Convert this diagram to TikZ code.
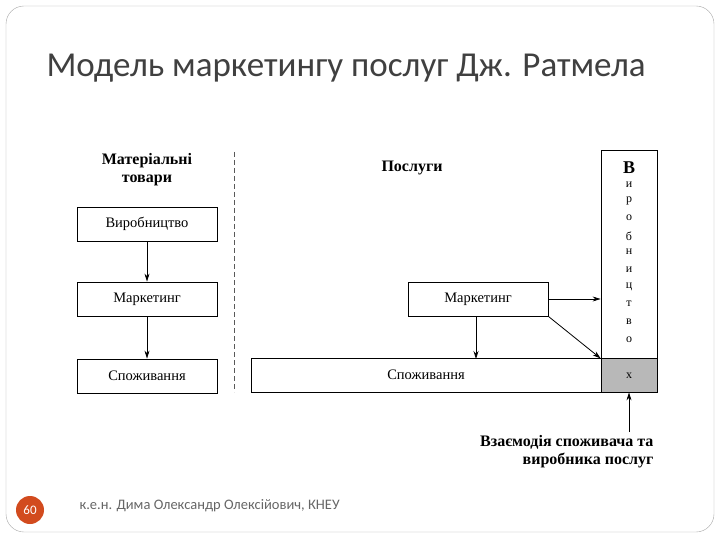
\documentclass[tikz,border=0pt]{standalone}
\usepackage{fontspec}
\setmainfont{Liberation Serif}
\newfontfamily\carl{Carlito}
\usetikzlibrary{arrows.meta}
\begin{document}
\begin{tikzpicture}[x=1pt,y=-1pt,
  bx/.style={draw,thick,minimum height=34pt,font=\fontsize{14.5}{15}\selectfont},
  ar/.style={-{Stealth[length=8pt,width=5pt]},thick},
  lbl/.style={font=\bfseries\fontsize{16}{18}\selectfont,align=center},
  col/.style={font=\fontsize{12}{12}\selectfont,inner sep=0}]
\useasboundingbox (0,0) rectangle (720,540);
\draw[rounded corners=18pt,gray!70] (6,6) rectangle (714,532);
\node[anchor=west,font=\carl\fontsize{35}{37}\selectfont,text=black!75] (title) at (43,68) {Модель маркетингу послуг Дж. Ратмела};
% left
\node[lbl] (mt) at (147,170) {Матеріальні\\товари};
\node[bx,minimum width=140pt] (v) at (147,224) {Виробництво};
\node[bx,minimum width=140pt] (m) at (147,299) {Маркетинг};
\node[bx,minimum width=140pt] (s) at (147,376) {Споживання};
\draw[ar] (v) -- (m);
\draw[ar] (m) -- (s);
\draw[thick,dash pattern=on 5pt off 3pt,gray!70!black] (234,152) coordinate (d1) -- (234,392) coordinate (d2);
% right
\node[lbl] (p) at (412,168) {Послуги};
\node[draw,thick,minimum width=56pt,minimum height=208pt,inner sep=0] (col) at (629,254) {};
\node[draw,thick,fill=black!28,minimum width=56pt,minimum height=34pt,inner sep=0] (x) at (629,375) {};
\node[col] at (629,376) {х};
\node[draw,thick,minimum width=350pt,minimum height=34pt,font=\fontsize{14.5}{15}\selectfont] (s2) at (426,375) {Споживання};
\node[bx,minimum width=140pt] (m2) at (478,299) {Маркетинг};
\node[font=\bfseries\fontsize{18}{18}\selectfont,inner sep=0] at (629,168) {В};
\foreach \t/\y in {и/185,р/201,о/218,б/236,н/252,и/270,ц/287,т/304,в/322,о/340}
  \node[col] at (629,\y) {\t};
\draw[ar] (m2.east) -- (col.west |- m2.east);
\draw[ar] (m2.south east) -- (col.south west);
\draw[ar] (476,316) -- (476,359);
\node[lbl,align=right,anchor=north east] (cap) at (657,432) {Взаємодія споживача та\\виробника послуг};
\draw[ar] (cap.north -| x.south) -- (x.south);
% footer
\node[circle,fill={rgb,255:red,210;green,75;blue,30},minimum size=28pt,inner sep=0,text=white,font=\carl\fontsize{13}{13}\selectfont] (pg) at (30,510) {60};
\node[anchor=west,text=black!60,font=\carl\fontsize{14.5}{15}\selectfont] (ft) at (76,506) {к.е.н. Дима Олександр Олексійович, КНЕУ};
\end{tikzpicture}
\end{document}
